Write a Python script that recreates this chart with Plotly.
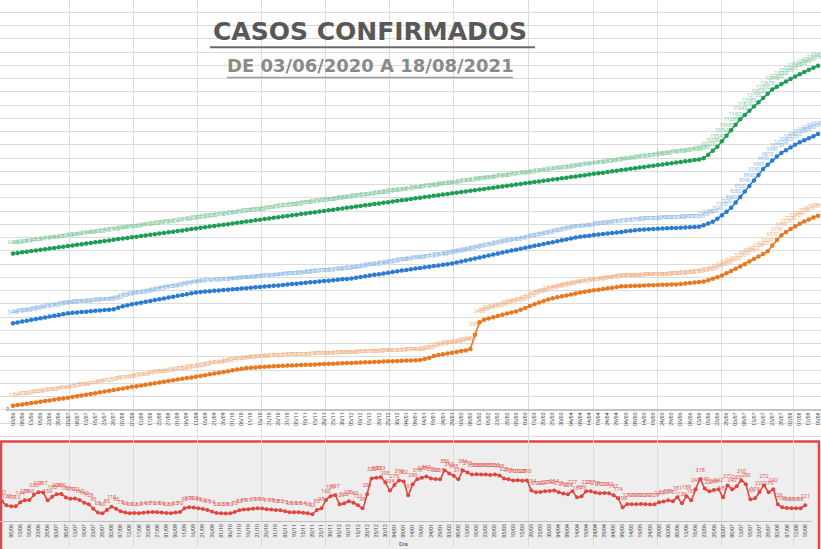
import pandas as pd
import plotly.graph_objects as go

W, H = 821, 549

# ---------------- data ----------------
dates = pd.date_range("2020-06-03", "2021-08-18", periods=177)
date_labels = [d.strftime("%d/%m") for d in dates]

verde = [
    6240, 6263, 6290, 6314, 6341, 6365, 6391, 6416, 6443, 6466,
    6492, 6517, 6543, 6568, 6594, 6619, 6644, 6669, 6695, 6720,
    6745, 6771, 6795, 6824, 6846, 6871, 6897, 6922, 6947, 6972,
    6997, 7023, 7048, 7073, 7098, 7124, 7149, 7174, 7199, 7225,
    7250, 7275, 7300, 7326, 7351, 7376, 7401, 7420, 7452, 7477,
    7502, 7528, 7553, 7578, 7603, 7629, 7654, 7679, 7704, 7730,
    7755, 7780, 7805, 7831, 7856, 7881, 7906, 7932, 7957, 7982,
    8007, 8033, 8058, 8083, 8108, 8134, 8159, 8184, 8209, 8235,
    8260, 8285, 8310, 8336, 8361, 8386, 8411, 8437, 8462, 8487,
    8512, 8538, 8563, 8588, 8613, 8639, 8664, 8689, 8714, 8740,
    8765, 8790, 8815, 8841, 8866, 8891, 8916, 8942, 8967, 8992,
    9017, 9043, 9068, 9093, 9118, 9144, 9169, 9194, 9219, 9245,
    9270, 9295, 9320, 9346, 9371, 9396, 9421, 9447, 9472, 9497,
    9522, 9548, 9573, 9598, 9623, 9649, 9674, 9699, 9724, 9750,
    9775, 9800, 9825, 9851, 9876, 9901, 9926, 9952, 9977, 10002,
    10027, 10080, 10220, 10380, 10540, 10760, 10980, 11200, 11420, 11640,
    11810, 11985, 12155, 12325, 12500, 12670, 12840, 12950, 13060, 13165,
    13265, 13360, 13450, 13540, 13630, 13715, 13800,
]

azul = [
    3440, 3472, 3508, 3540, 3575, 3606, 3640, 3675, 3708, 3742, 3775, 3808, 3840,
    3858, 3874, 3890, 3906, 3921, 3938, 3954, 3970, 3985, 4000,
    4060, 4120, 4165, 4200,
    4235, 4268, 4302, 4336, 4370, 4405, 4438, 4472, 4508, 4542, 4576, 4610, 4645, 4680,
    4696, 4711, 4727, 4742, 4758, 4773, 4789, 4804, 4820, 4835, 4851, 4866, 4882, 4897,
    4913, 4929, 4944, 4960,
    4978, 4995, 5013, 5030, 5048, 5065, 5083, 5100, 5118, 5135, 5153, 5170, 5188, 5205,
    5223, 5240,
    5269, 5298, 5327, 5356, 5385, 5414, 5443, 5472, 5502, 5531, 5560,
    5585, 5611, 5636, 5662, 5687, 5713, 5738, 5764, 5789, 5815, 5840,
    5880, 5920, 5960, 6000, 6040, 6080, 6120, 6160, 6200, 6240, 6280, 6320, 6360, 6400, 6440,
    6477, 6514, 6551, 6588, 6625, 6662, 6699, 6736, 6773, 6810, 6847, 6884, 6920,
    6942, 6963, 6985, 7006, 7028, 7049, 7071, 7092, 7114, 7135, 7157, 7178, 7200,
    7209, 7218, 7228, 7237, 7246, 7255, 7265, 7274, 7283, 7292, 7302, 7311, 7320,
    7380, 7450, 7520,
    7640, 7780, 7920, 8080, 8300, 8520, 8740, 8960, 9180, 9400, 9640, 9810, 9980, 10150,
    10290, 10400, 10510, 10620, 10720, 10800, 10880, 10960, 11050,
]

laranja = [
    120, 148, 175, 200, 228, 255, 280, 308, 335, 360, 388, 413, 440,
    472, 503, 534, 566, 597, 628, 660, 691, 723, 754, 786, 817, 849, 880,
    909, 939, 968, 997, 1027, 1056, 1085, 1115, 1144, 1173, 1203, 1232, 1261, 1291, 1320,
    1352, 1384, 1416, 1448, 1480, 1512, 1544, 1576, 1608, 1640,
    1652, 1663, 1675, 1686, 1698, 1709, 1720,
    1728, 1735, 1743, 1751, 1759, 1766, 1774, 1782, 1790, 1797, 1805, 1813, 1820, 1828,
    1836, 1844, 1851, 1859, 1867, 1875, 1882, 1890, 1898, 1906, 1913, 1921, 1929, 1937,
    1944, 1952, 1960,
    2000, 2050, 2120, 2160, 2190, 2220, 2250, 2280, 2320, 2340,
    2400, 2980, 3480, 3580,
    3630, 3680, 3730, 3780, 3830, 3870, 3910,
    3980, 4050, 4130, 4200, 4270, 4330, 4390, 4440,
    4480, 4520, 4560, 4600, 4640, 4680, 4710,
    4740, 4765, 4790, 4820, 4845, 4870, 4900, 4925,
    4932, 4938, 4945, 4952, 4958, 4965, 4972, 4978, 4985, 4990, 4995, 5000,
    5015, 5035, 5055, 5075, 5100, 5120,
    5170, 5230, 5290, 5360,
    5450, 5540, 5630, 5720, 5810,
    5920, 6020, 6120, 6220, 6330,
    6570, 6790, 6980, 7110, 7230, 7340, 7440, 7530, 7610, 7690, 7760,
]

novos = [
    151, 120, 113, 113, 144, 159, 160, 200, 219, 217,
    159, 185, 204, 206, 180, 170, 172, 160, 140, 128,
    95, 65, 60, 85, 110, 95, 75, 66, 60, 62,
    60, 64, 68, 70, 68, 66, 62, 60, 65, 70,
    98, 106, 103, 98, 92, 85, 74, 62, 60, 58,
    60, 70, 83, 88, 91, 95, 98, 96, 91, 88,
    85, 83, 75, 68, 68, 68, 64, 60, 53, 85,
    98, 160, 189, 197, 129, 136, 151, 140, 121, 98,
    204, 325, 330, 333, 295, 234, 275, 310, 302, 197,
    280, 318, 330, 340, 325, 320, 318, 386, 363, 345,
    318, 386, 370, 355, 356, 354, 355, 352, 355, 348,
    325, 318, 310, 312, 308, 310, 234, 219, 222, 227,
    230, 234, 219, 210, 204, 227, 181, 189, 227, 227,
    218, 212, 214, 212, 197, 174, 106, 129, 129, 128,
    130, 129, 127, 129, 144, 150, 159, 151, 181, 136,
    189, 159, 242, 318, 249, 227, 236, 242, 181, 272,
    242, 265, 310, 280, 166, 174, 222, 272, 219, 242,
    129, 106, 100, 98, 98, 98, 121,
]

titulo = "CASOS CONFIRMADOS"
subtitulo = "DE 03/06/2020 A 18/08/2021"
eixo_x_inferior = "Dia"

# ---------------- styling ----------------
FONT = "Roboto"
TFONT = "DejaVu Sans"
idx = list(range(len(date_labels)))

def py(p):  # pixel y -> paper fraction
    return 1 - p / H

def pxf(p):  # pixel x -> paper fraction
    return p / W

fig = go.Figure()

# background spreadsheet-like grid (subplot x/y, drawn first => underneath)
fig.add_trace(go.Scatter(x=[None], y=[None], xaxis="x", yaxis="y",
                         showlegend=False, hoverinfo="skip"))

series = [
    (verde, "#1f9d55", "#7cc99a"),
    (azul, "#2b7bd3", "#8ab8ea"),
    (laranja, "#e9781f", "#f2ad7a"),
]
for vals, col, lcol in series:
    # data labels (offset above the points)
    fig.add_trace(go.Scatter(
        x=idx, y=vals, text=[str(v) for v in vals],
        mode="markers+text", textposition="top center",
        textfont=dict(size=5, color=lcol, family=FONT),
        marker=dict(size=11, opacity=0),
        xaxis="x2", yaxis="y2", showlegend=False, cliponaxis=False,
        hoverinfo="skip",
    ))
    fig.add_trace(go.Scatter(
        x=idx, y=vals, mode="lines+markers",
        line=dict(color=col, width=1.6),
        marker=dict(color=col, size=4.5),
        xaxis="x2", yaxis="y2", showlegend=False, cliponaxis=False,
    ))

fig.add_trace(go.Scatter(
    x=idx, y=novos, text=[str(v) for v in novos],
    mode="markers+text", textposition="top center",
    textfont=dict(size=5.5, color="#e2554e", family=FONT),
    marker=dict(size=8, opacity=0),
    xaxis="x3", yaxis="y3", showlegend=False, cliponaxis=False, hoverinfo="skip",
))
fig.add_trace(go.Scatter(
    x=idx, y=novos, mode="lines+markers",
    line=dict(color="#e0463f", width=1.6, shape="spline", smoothing=0.6),
    marker=dict(color="#e0463f", size=4),
    xaxis="x3", yaxis="y3", showlegend=False, cliponaxis=False,
))

vgrid = [69, 133, 197, 261, 325, 389, 453, 528, 593, 657, 721, 793]
hgrid = [12.3 + 13.33 * k for k in range(33)]

fig.update_layout(
    width=W, height=H, autosize=False,
    margin=dict(l=0, r=0, t=0, b=0),
    paper_bgcolor="white", plot_bgcolor="rgba(0,0,0,0)",
    font=dict(family=FONT, color="#444"),
    xaxis=dict(domain=[0, 1], range=[0, W], tickmode="array", tickvals=vgrid,
               showgrid=True, gridcolor="#dcdcdc", gridwidth=1,
               showticklabels=False, zeroline=False, showline=False, fixedrange=True),
    yaxis=dict(domain=[0, 1], range=[H, 0], tickmode="array", tickvals=hgrid,
               showgrid=True, gridcolor="#dcdcdc", gridwidth=1,
               showticklabels=False, zeroline=False, showline=False, fixedrange=True),
    xaxis2=dict(domain=[pxf(10), 1], range=[-0.66, 176.66], anchor="y2",
                tickmode="array", tickvals=idx[::2], ticktext=date_labels[::2],
                tickangle=-90, tickfont=dict(size=5, color="#444"),
                showgrid=False, zeroline=False, showline=True,
                linecolor="#c4c4c4", linewidth=1.5, ticks=""),
    yaxis2=dict(domain=[py(411), py(20)], range=[0, 15640], anchor="x2",
                tickmode="array", tickvals=[0], ticktext=["0"],
                tickfont=dict(size=5, color="#555"),
                showgrid=False, zeroline=False, showline=False, ticks=""),
    xaxis3=dict(domain=[0, pxf(812)], range=[-0.44, 177.5], anchor="y3",
                tickmode="array", tickvals=idx[::2], ticktext=date_labels[::2],
                tickangle=-90, tickfont=dict(size=5, color="#444"),
                showgrid=False, zeroline=False, showline=True,
                linecolor="#bdbdbd", linewidth=1, ticks=""),
    yaxis3=dict(domain=[py(524), py(450)], range=[0, 560], anchor="x3",
                showticklabels=False, showgrid=False, zeroline=False,
                showline=False, ticks=""),
)

shapes = [
    # bottom panel frame
    dict(type="rect", xref="paper", yref="paper",
         x0=pxf(1), x1=pxf(819), y0=py(560), y1=py(444),
         line=dict(color="#e0474a", width=2.5), fillcolor="#eeeeee", layer="below"),
    # title underlines
    dict(type="line", xref="paper", yref="paper",
         x0=pxf(210), x1=pxf(535), y0=py(47.5), y1=py(47.5),
         line=dict(color="#6a6a6a", width=2)),
    dict(type="line", xref="paper", yref="paper",
         x0=pxf(227), x1=pxf(513), y0=py(78), y1=py(78),
         line=dict(color="#9a9a9a", width=1.5)),
]
fig.update_layout(shapes=shapes)

fig.add_annotation(text="<b>" + titulo + "</b>", xref="paper", yref="paper",
                   x=pxf(370), y=py(32), xanchor="center", yanchor="middle",
                   showarrow=False,
                   font=dict(family=TFONT, size=25, color="#585858"))
fig.add_annotation(text="<b>" + subtitulo + "</b>", xref="paper", yref="paper",
                   x=pxf(370.5), y=py(66), xanchor="center", yanchor="middle",
                   showarrow=False,
                   font=dict(family=TFONT, size=18, color="#8a8a8a"))
fig.add_annotation(text=eixo_x_inferior, xref="paper", yref="paper",
                   x=pxf(403), y=py(546.5), xanchor="center", yanchor="middle",
                   showarrow=False,
                   font=dict(family=FONT, size=6, color="#444"))

fig.write_html("out.html",
               config={"displayModeBar": False},
               post_script="document.body.style.margin='0';"
                           "document.body.style.overflow='hidden';")
